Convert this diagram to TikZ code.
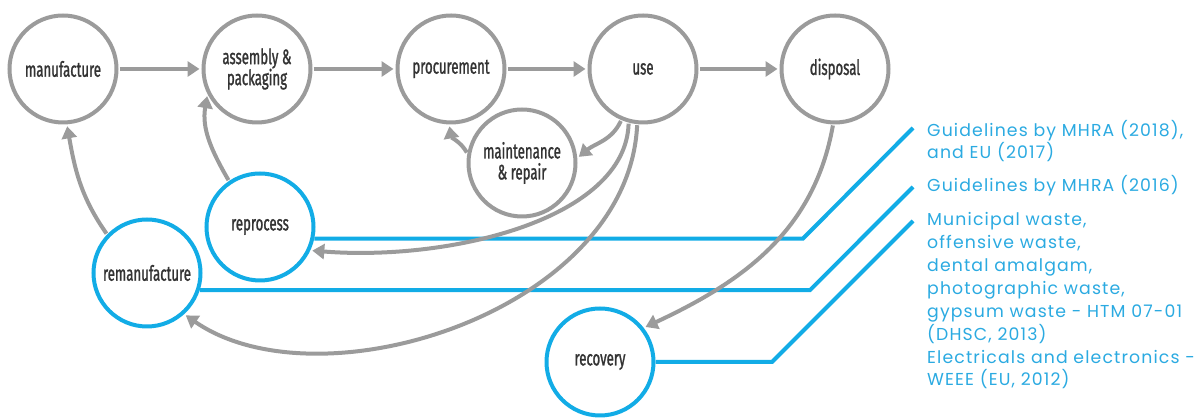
\documentclass[tikz,border=0pt]{standalone}
\usepackage{fontspec}
\setmainfont[LetterSpace=6.5]{Poppins}
\newfontfamily\labfont[FakeStretch=0.63,FakeBold=1.2]{Fira Sans}
\usetikzlibrary{arrows.meta}
\definecolor{cgray}{HTML}{9B9B9B}
\definecolor{cblue}{HTML}{12ACE6}
\definecolor{ctext}{HTML}{333333}
\definecolor{cnote}{HTML}{2BAAE1}
\begin{document}
\begin{tikzpicture}[x=1pt,y=1pt,
  stage/.style={circle, draw=cgray, line width=4pt, fill=white, minimum size=107pt,
    inner sep=0pt, align=center, text=ctext, font=\labfont\fontsize{21}{21}\selectfont},
  bstage/.style={stage, draw=cblue},
  flow/.style={draw=cgray, line width=4pt, shorten >=2pt, shorten <=1pt,
    -{Triangle[length=12pt,width=15pt]}},
  link/.style={draw=cblue, line width=4pt},
  note/.style={anchor=base west, align=left, inner sep=0pt, text=cnote,
    font=\fontsize{17.3}{22.9}\selectfont}]
\useasboundingbox (0,0) rectangle (1195,419);

% stages
\node[stage] (man) at (63,350) {manufacture};
\node[stage] (asm) at (257,350) {assembly \&\\packaging};
\node[stage] (pro) at (451,350) {procurement};
\node[stage] (use) at (643,350) {use};
\node[stage] (dis) at (835,350) {disposal};
\node[stage] (mai) at (522,256) {maintenance\\\& repair};
\node[bstage] (rep) at (260,192) {reprocess};
\node[bstage] (rem) at (147,146) {remanufacture};
\node[bstage] (rec) at (600,57) {recovery};

% leader lines
\coordinate (k1) at (803,181);
\coordinate (g1) at (913,291);
\coordinate (k2) at (810,129);
\coordinate (g2) at (913,232);
\coordinate (k3) at (772,57);
\coordinate (g3) at (913,198);
\draw[link] (rep.-12) -- (rep.-12 -| k1) -- (g1);
\draw[link] (rem.-18) -- (rem.-18 -| k2) -- (g2);
\draw[link] (rec.east) -- (rec.east -| k3) -- (g3);

% flows
\draw[flow] (man) -- (asm);
\draw[flow] (asm) -- (pro);
\draw[flow] (pro) -- (use);
\draw[flow] (use) -- (dis);
\draw[flow] (use.247) to[out=245,in=40] (mai.5);
\draw[flow] (mai.170) to[out=120,in=-80] (pro.268);
\draw[flow] (use.255) .. controls +(-3,-97) and +(138,-11) .. (rep.-25);
\draw[flow] (use.264) .. controls +(-9,-187) and +(136,-94) .. (rem.-48);
\draw[flow] (rem.136) to[out=125,in=-80] (man.274);
\draw[flow] (rep.124) to[out=120,in=-100] (asm.207);
\draw[flow] (dis.268) to[out=260,in=25] (rec.38);

% notes
\node[note] (n1) at (927,260) {Guidelines by MHRA (2018),\\and EU (2017)};
\node[note] (n2) at (927,227) {Guidelines by MHRA (2016)};
\node[note] (n3) at (927,33) {Municipal waste,\\offensive waste,\\dental amalgam,\\photographic waste,\\gypsum waste - HTM 07-01\\(DHSC, 2013)\\Electricals and electronics -\\WEEE (EU, 2012)};
\end{tikzpicture}
\end{document}
